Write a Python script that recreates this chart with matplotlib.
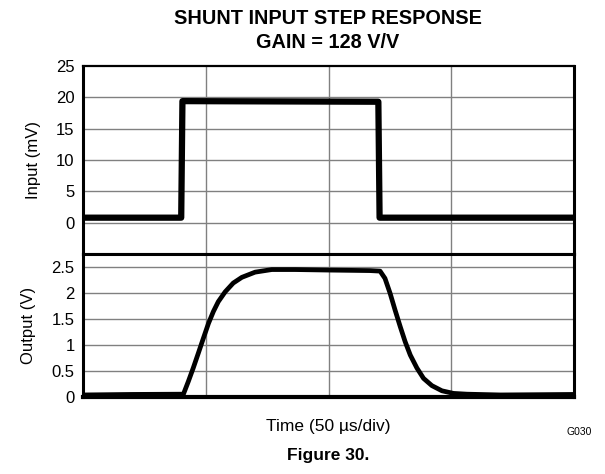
import matplotlib
matplotlib.use("Agg")
import matplotlib.pyplot as plt

plt.rcParams['font.family'] = ['Liberation Sans', 'DejaVu Sans']

# Time in microseconds (50 us/div, 4 divisions)
t_in = [0, 40.0, 40.5, 120.3, 120.8, 200]
v_in = [0.8, 0.8, 19.4, 19.3, 0.8, 0.8]

t_out = [0, 20, 40.9, 42.9, 44.9, 47.0, 49.0, 51.1, 53.1, 55.1, 57.9, 61.2, 64.7, 70.1, 76.9, 86.4,
         100, 116.9, 121.0, 123.0, 125.1, 127.1, 129.2, 131.2, 133.3, 136.0, 138.7, 142.1, 146.2,
         150.9, 156.4, 170, 200]
v_out = [0.03, 0.04, 0.045, 0.29, 0.55, 0.84, 1.12, 1.41, 1.64, 1.83, 2.02, 2.19, 2.30, 2.40, 2.45, 2.45,
         2.44, 2.43, 2.42, 2.28, 1.99, 1.67, 1.35, 1.06, 0.80, 0.55, 0.35, 0.21, 0.11,
         0.06, 0.045, 0.03, 0.04]

in_ticks = [0, 5, 10, 15, 20, 25]
out_ticks = [0, 0.5, 1, 1.5, 2, 2.5]
out_ticklabels = ['0', '0.5', '1', '1.5', '2', '2.5']
x_grid = [50, 100, 150]

fig = plt.figure(figsize=(6.05, 4.74), dpi=100)
ax1 = fig.add_axes([0.1372, 0.4641, 0.8116, 0.3966])
ax2 = fig.add_axes([0.1372, 0.1635, 0.8116, 0.3006])

grid_kw = dict(color='#808080', lw=1.0, zorder=1)
FS = 12

for ax in (ax1, ax2):
    ax.set_xlim(0, 200)
    ax.set_xticks([])
    for xg in x_grid:
        ax.axvline(xg, **grid_kw)
    ax.tick_params(axis='y', length=0, pad=6, labelsize=FS)
    for s in ax.spines.values():
        s.set_linewidth(2.2)
        s.set_color('black')
        s.set_zorder(5)

ax1.set_ylim(-5, 25)
ax1.set_yticks(in_ticks)
for yg in in_ticks[:-1]:
    ax1.axhline(yg, **grid_kw)
ax1.plot(t_in, v_in, color='black', lw=4.5, solid_joinstyle='round', zorder=3)
ax1.set_ylabel('Input (mV)', fontsize=FS, labelpad=11)
ax1.spines['top'].set_linewidth(1.6)

ax2.set_ylim(0, 2.75)
ax2.set_yticks(out_ticks)
ax2.set_yticklabels(out_ticklabels)
for yg in out_ticks[1:]:
    ax2.axhline(yg, **grid_kw)
ax2.plot(t_out, v_out, color='black', lw=3.4, solid_joinstyle='round', zorder=3)
ax2.set_ylabel('Output (V)', fontsize=FS, labelpad=11)
ax2.spines['bottom'].set_linewidth(3.0)
ax2.set_xlabel('Time (50 \u00b5s/div)', fontsize=12.5, labelpad=16)

fig.text(0.5421, 0.961, 'SHUNT INPUT STEP RESPONSE', ha='center', va='center',
         fontsize=14.3, fontweight='bold')
fig.text(0.5421, 0.910, 'GAIN = 128 V/V', ha='center', va='center',
         fontsize=14.3, fontweight='bold')
fig.text(0.958, 0.089, 'G030', ha='center', va='center', fontsize=7.5)
fig.text(0.5421, 0.038, 'Figure 30.', ha='center', va='center',
         fontsize=12.5, fontweight='bold')

fig.savefig('out.png', dpi=100)
